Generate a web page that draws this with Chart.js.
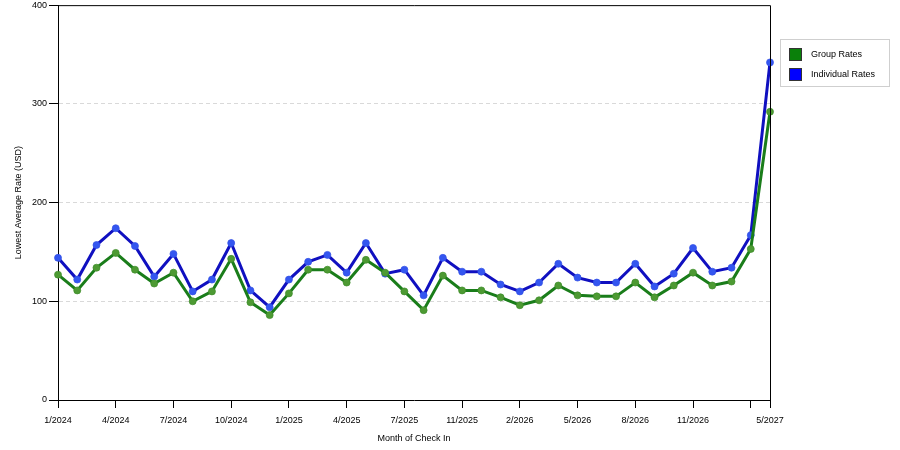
<!DOCTYPE html>
<html>
<head>
<meta charset="utf-8">
<script src="https://cdn.jsdelivr.net/npm/chart.js@4.4.1/dist/chart.umd.min.js"></script>
<style>
  html, body { margin:0; padding:0; background:#fff; }
  #wrap { position:relative; width:900px; height:450px; }
  #legend { position:absolute; left:780px; top:39px; width:110px; height:48px; border:1px solid #cfcfcf; box-sizing:border-box; font-family:"Liberation Sans", Arial, sans-serif; font-size:9px; color:#000; }
  .item { position:absolute; left:8px; height:13px; line-height:13px; }
  .sw { position:absolute; left:0; top:0; width:11px; height:11px; border:1px solid #333; }
  .lb { position:absolute; left:22px; top:0; white-space:nowrap; }
</style>
</head>
<body>
<div id="wrap">
  <canvas id="c" width="900" height="450"></canvas>
  <div id="legend">
    <div class="item" style="top:8px"><div class="sw" style="background:#0a800a"></div><div class="lb">Group Rates</div></div>
    <div class="item" style="top:28px"><div class="sw" style="background:#0000ff"></div><div class="lb">Individual Rates</div></div>
  </div>
</div>
<script>
const months = ["1/2024","2/2024","3/2024","4/2024","5/2024","6/2024","7/2024","8/2024","9/2024","10/2024","11/2024","12/2024",
  "1/2025","2/2025","3/2025","4/2025","5/2025","6/2025","7/2025","8/2025","9/2025","11/2025","12/2025",
  "1/2026","2/2026","3/2026","4/2026","5/2026","6/2026","7/2026","8/2026","9/2026","10/2026","11/2026","12/2026",
  "1/2027","2/2027","5/2027"];
const groupRates = [127,111,134,149,132,118,129,100,110,143,99,86,
  108,132,132,119,142,129,110,91,126,111,111,
  104,96,101,116,106,105,105,119,104,116,129,116,120,153,292];
const individualRates = [144,122,157,174,156,125,148,110,122,159,111,94,
  122,140,147,129,159,128,132,106,144,130,130,
  117,110,119,138,124,119,119,138,115,128,154,130,134,167,342];
const yTicks = [0,100,200,300,400];

const FONT = "'Liberation Sans', Arial, sans-serif";

const boxPlugin = {
  id:'box',
  afterDraw(chart){
    const a = chart.chartArea, ctx = chart.ctx;
    ctx.save();
    ctx.strokeStyle = '#000';
    ctx.lineWidth = 1;
    ctx.beginPath();
    ctx.moveTo(a.left, a.top + 0.5); ctx.lineTo(a.right + 0.5, a.top + 0.5);
    ctx.lineTo(a.right + 0.5, a.bottom);
    ctx.stroke();
    ctx.restore();
  }
};

new Chart(document.getElementById('c'), {
  type:'line',
  data:{
    labels: months,
    datasets:[
      { label:'Group Rates', data: groupRates, borderColor:'#1a7d1a', borderWidth:3,
        pointBackgroundColor:'#4d9a33', pointBorderColor:'rgba(60,140,40,0.7)', pointBorderWidth:1, pointRadius:3.5,
        tension:0, fill:false },
      { label:'Individual Rates', data: individualRates, borderColor:'#1010c0', borderWidth:3,
        pointBackgroundColor:'#3456f0', pointBorderColor:'rgba(50,80,230,0.7)', pointBorderWidth:1, pointRadius:3.5,
        tension:0, fill:false }
    ]
  },
  options:{
    responsive:false,
    animation:false,
    devicePixelRatio:1,
    layout:{ padding:{ left:0, right:130, top:0, bottom:0 } },
    plugins:{ legend:{ display:false }, tooltip:{ enabled:false } },
    scales:{
      x:{
        type:'category',
        offset:false,
        grid:{ drawOnChartArea:false, drawTicks:true, tickLength:8, tickColor:'#000' },
        border:{ display:true, color:'#000', width:1 },
        ticks:{ autoSkip:false, maxRotation:0, minRotation:0, padding:7, color:'#000', font:{ family:FONT, size:9 },
          callback(v, i){ const n = months.length; if (i === n-1) return months[i]; if (i === n-2) return ''; if (i % 3 === 0) return months[i]; return null; } },
        title:{ display:true, text:'Month of Check In', color:'#000', font:{ family:FONT, size:9 }, padding:{ top:2, bottom:6 } },
        afterFit(s){ s.height = 50; }
      },
      y:{
        min:0, max:400,
        afterBuildTicks(s){ s.ticks = yTicks.map(v => ({ value:v })); },
        grid:{ drawTicks:true, tickLength:9, tickColor:'#000',
          color: ctx => (ctx.tick && (ctx.tick.value === 0 || ctx.tick.value === 400)) ? 'rgba(0,0,0,0)' : '#d9d9d9' },
        border:{ display:true, color:'#000', width:1, dash:[4,3] },
        ticks:{ padding:2, color:'#000', font:{ family:FONT, size:9, lineHeight:0.7 } },
        title:{ display:true, text:'Lowest Average Rate (USD)', color:'#000', font:{ family:FONT, size:9 }, padding:{ top:13, bottom:6 } },
        afterFit(s){ s.width = 58; }
      }
    }
  },
  plugins:[boxPlugin]
});
</script>
</body>
</html>
